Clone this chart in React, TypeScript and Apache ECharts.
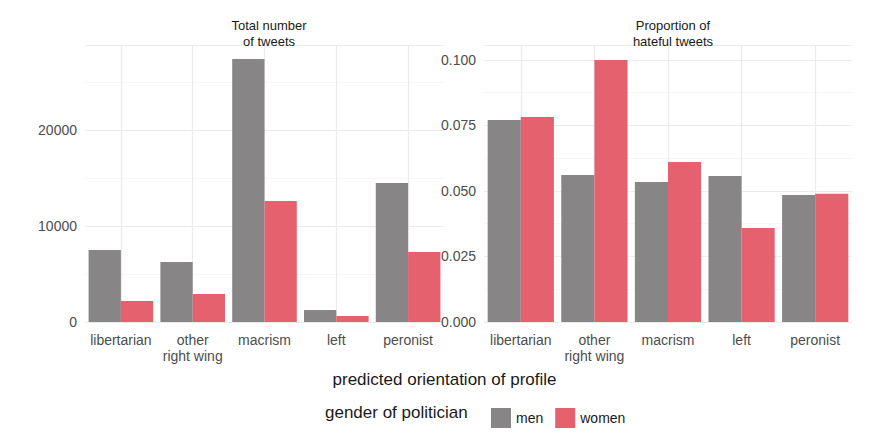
import { useRef, useEffect } from "react";
import * as echarts from "echarts";

const categories = ["libertarian", "other\nright wing", "macrism", "left", "peronist"];
const totalMen = [7500, 6250, 27400, 1250, 14480];
const totalWomen = [2190, 2920, 12600, 625, 7290];
const propMen = [0.0771, 0.0561, 0.0534, 0.0557, 0.0485];
const propWomen = [0.0782, 0.1, 0.0611, 0.0359, 0.0489];

const MEN = "#878585";
const WOMEN = "#e5616e";
const FONT = "Liberation Sans, Arial, sans-serif";

export default function App() {
  const chartRef = useRef<HTMLDivElement>(null);

  useEffect(() => {
    if (!chartRef.current) return;
    document.body.style.margin = "0";
    const chart = echarts.init(chartRef.current, null, { renderer: "svg" });

    const xAxis = (gridIndex: number) => ({
      type: "category" as const,
      gridIndex,
      data: categories,
      axisLine: { show: false },
      axisTick: { show: false },
      splitLine: { show: false },
      axisLabel: { color: "#4d4d4d", fontSize: 14, fontFamily: FONT, margin: 10, lineHeight: 16, interval: 0 },
    });
    const yAxis = (gridIndex: number, max: number, interval: number, fmt: (v: number) => string) => ({
      type: "value" as const,
      gridIndex,
      min: 0,
      max,
      interval,
      axisLine: { show: false },
      axisTick: { show: false },
      axisLabel: { color: "#4d4d4d", fontSize: 14, fontFamily: FONT, formatter: fmt, showMaxLabel: false },
      splitLine: { lineStyle: { color: "#ebebeb", width: 1.2 } },
      minorTick: { show: false, splitNumber: 2 },
      minorSplitLine: { show: true, lineStyle: { color: "#f4f4f4", width: 0.8 } },
    });
    const gridLines = (idx: number) => ({
      type: "line" as const,
      xAxisIndex: idx,
      yAxisIndex: idx,
      data: [],
      silent: true,
      z: 0,
      markLine: {
        silent: true,
        symbol: "none",
        label: { show: false },
        z: 0,
        lineStyle: { color: "#ebebeb", type: "solid" as const, width: 1.2 },
        data: categories.map((c) => ({ xAxis: c })),
      },
    });
    const bar = (name: string, color: string, data: number[], idx: number) => ({
      name,
      type: "bar" as const,
      xAxisIndex: idx,
      yAxisIndex: idx,
      data,
      barGap: "0%",
      barCategoryGap: "10%",
      itemStyle: { color },
      z: 2,
    });

    chart.setOption({
      animation: false,
      backgroundColor: "#ffffff",
      title: [
        { text: "Total number\nof tweets", left: 264, top: 12, textAlign: "center",
          textStyle: { fontSize: 13, fontWeight: "normal", color: "#1a1a1a", fontFamily: FONT, lineHeight: 16 } },
        { text: "Proportion of\nhateful tweets", left: 668, top: 12, textAlign: "center",
          textStyle: { fontSize: 13, fontWeight: "normal", color: "#1a1a1a", fontFamily: FONT, lineHeight: 16 } },
      ],
      grid: [
        { left: 85, right: 889 - 444, top: 45, bottom: 445 - 322 },
        { left: 484, right: 889 - 852, top: 45, bottom: 445 - 322 },
      ],
      xAxis: [xAxis(0), xAxis(1)],
      yAxis: [
        yAxis(0, 28850, 10000, (v) => String(v)),
        yAxis(1, 0.1057, 0.025, (v) => v.toFixed(3)),
      ],
      legend: {
        data: ["men", "women"],
        left: 486,
        top: 403,
        itemWidth: 20,
        itemHeight: 20,
        itemGap: 12,
        icon: "rect",
        textStyle: { fontSize: 14, color: "#1a1a1a", fontFamily: FONT },
      },
      graphic: [
        { type: "text", left: "center", top: 371,
          style: { text: "predicted orientation of profile", fontSize: 17, fill: "#1a1a1a", fontFamily: FONT } },
        { type: "text", left: 325, top: 404,
          style: { text: "gender of politician", fontSize: 17, fill: "#1a1a1a", fontFamily: FONT } },
      ],
      series: [
        gridLines(0),
        gridLines(1),
        bar("men", MEN, totalMen, 0),
        bar("women", WOMEN, totalWomen, 0),
        bar("men", MEN, propMen, 1),
        bar("women", WOMEN, propWomen, 1),
      ],
    });

    return () => chart.dispose();
  }, []);

  return <div ref={chartRef} style={{ width: 889, height: 445 }} />;
}
